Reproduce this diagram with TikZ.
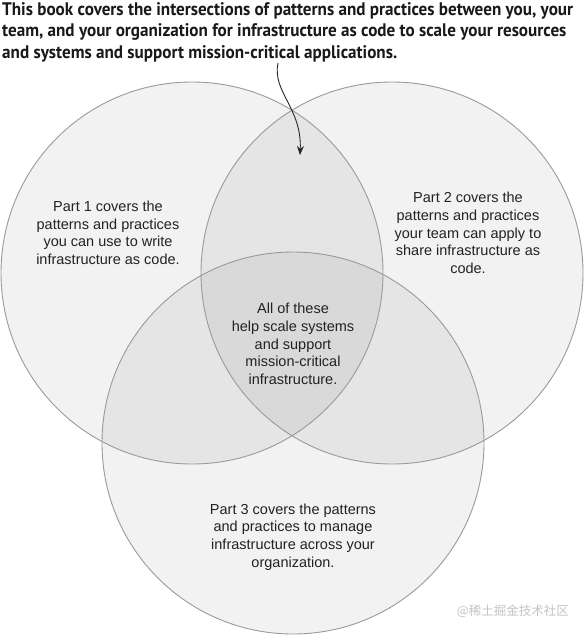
\documentclass[tikz,border=0pt]{standalone}
\usepackage{fontspec}
\setmainfont{Liberation Sans}
\newfontfamily\titlefont[FakeStretch=0.94]{PT Sans}
\newfontfamily\cjkfont{Noto Sans CJK SC}
\usetikzlibrary{arrows.meta}
\definecolor{edgegray}{HTML}{9A9A9A}
\definecolor{textgray}{HTML}{222222}
\definecolor{wmgray}{HTML}{C4C4C4}
\begin{document}
\begin{tikzpicture}[x=1pt,y=-1pt,
  venn/.style={circle, minimum size=382pt, inner sep=0pt, draw=none},
  body/.style={align=center, text=textgray, inner sep=0pt, font=\fontsize{14.5}{17.6}\selectfont},
  pointer/.style={draw=black!85, line width=0.9pt, -{Stealth[length=9pt,width=7pt]}}
]
\fill[white] (0,0) rectangle (584,637);
\useasboundingbox (0,0) rectangle (584,637);
% circles
\node[venn] (c1) at (192,273) {};
\node[venn] (c2) at (392,273) {};
\node[venn] (c3) at (293,443) {};
\foreach \c in {c1,c2,c3}{
  \fill[black, fill opacity=0.05] (\c) circle[radius=191pt];
}
\foreach \c in {c1,c2,c3}{
  \draw[edgegray, line width=0.9pt] (\c) circle[radius=191pt];
}
% title
\node[anchor=north west, align=left, inner sep=0pt, text=black!90,
      font=\titlefont\bfseries\fontsize{18.2}{21.5}\selectfont] (title) at (2,2)
  {This book covers the intersections of patterns and practices between you, your\\
   team, and your organization for infrastructure as code to scale your resources\\
   and systems and support mission-critical applications.};
% texts
\node[body] (t1) at (108,233) {Part 1 covers the\\patterns and practices\\you can use to write\\infrastructure as code.};
\node[body] (t2) at (468,233) {Part 2 covers the\\patterns and practices\\your team can apply to\\share infrastructure as\\code.};
\node[body] (t0) at (293,344) {All of these\\help scale systems\\and support\\mission-critical\\infrastructure.};
\node[body] (t3) at (293,537) {Part 3 covers the patterns\\and practices to manage\\infrastructure across your\\organization.};
% arrow
\coordinate (astart) at (278,63);
\coordinate (aend) at (300,155);
\draw[pointer] (astart) .. controls (272,92) and (302,108) .. (aend);
% watermark
\node[anchor=east, inner sep=0pt, text=wmgray, font=\cjkfont\fontsize{12.5}{14}\selectfont] (wm) at (569,611) {@稀土掘金技术社区};
\end{tikzpicture}
\end{document}
